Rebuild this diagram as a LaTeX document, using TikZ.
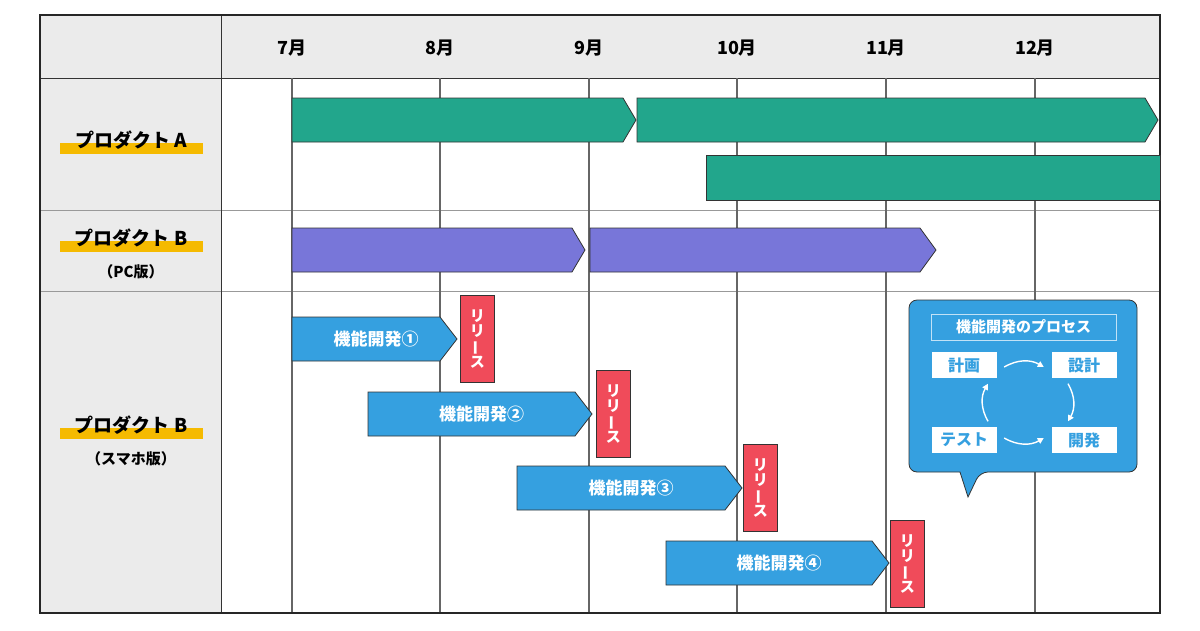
\documentclass[tikz,border=0pt]{standalone}
\usepackage{fontspec}
\setmainfont{Noto Sans CJK JP}
\usetikzlibrary{arrows.meta,positioning,shapes.misc,calc}
\definecolor{teal1}{HTML}{22A68C}
\definecolor{purp1}{HTML}{7876D9}
\definecolor{blue1}{HTML}{35A0E0}
\definecolor{red1}{HTML}{F04B5A}
\definecolor{yel1}{HTML}{F5BA00}
\definecolor{gray1}{HTML}{EBEBEB}
\tikzset{
  bar/.style={draw=black!80,line width=0.8pt},
  rel/.style={draw=black!80,fill=red1,line width=0.8pt,text=white,font=\bfseries\fontsize{15}{15}\selectfont,inner sep=0pt,align=center},
  lbl/.style={font=\bfseries\fontsize{17}{17}\selectfont,text=white},
  stepbox/.style={fill=white,draw=white,text=blue1,minimum width=64pt,minimum height=25pt,inner sep=0pt,font=\bfseries\fontsize{16}{16}\selectfont},
  cyc/.style={white,line width=1.4pt,-{Triangle[length=6pt,width=6pt]}},
}
\newcommand{\vbar}{\rotatebox[origin=c]{90}{ー}}
\begin{document}
\begin{tikzpicture}[x=1pt,y=-1pt]
  \useasboundingbox (0,0) rectangle (1200,630);
  % table
  \fill[gray1] (40,15) rectangle (1160,78);
  \fill[gray1] (40,78) rectangle (221,613);
  \draw[gray!80,line width=0.8pt] (40,210) -- (1160,210) (40,291) -- (1160,291);
  \draw[black!80,line width=1pt] (221,15) -- (221,613) (40,78) -- (1160,78);
  \foreach \x/\m in {292/7,440/8,589/9,737/10,886/11,1035/12}{
    \draw[black!60,line width=1.2pt] (\x,78) -- (\x,613);
    \node[font=\bfseries\fontsize{18}{18}\selectfont] (m\m) at (\x,48) {\m 月};
  }
  \draw[black!85,line width=1.2pt] (40,15) rectangle (1160,613);
  % left labels
  \foreach \y/\t/\s in {140/A/,238/B/（PC版）,425/B/（スマホ版）}{
    \fill[yel1] (60,\y+3) rectangle (203,\y+14);
    \node[font=\bfseries\fontsize{19}{19}\selectfont] at (131,\y) {プロダクト \t};
    \node[font=\bfseries\fontsize{15}{15}\selectfont] at (131,\y+34) {\s};
  }
  % product A
  \draw[bar,fill=teal1] (292,98) -- (623,98) -- (636,120) -- (623,142) -- (292,142) -- cycle;
  \draw[bar,fill=teal1] (637,98) -- (1145,98) -- (1158,120) -- (1145,142) -- (637,142) -- cycle;
  \draw[bar,fill=teal1] (706,155) rectangle (1160,200);
  % product B PC
  \draw[bar,fill=purp1] (292,228) -- (572,228) -- (585,250) -- (572,272) -- (292,272) -- cycle;
  \draw[bar,fill=purp1] (590,228) -- (920,228) -- (936,250) -- (920,272) -- (590,272) -- cycle;
  % product B smartphone
  \foreach \a/\b/\y/\n/\rx/\ry in {292/440/317/①/460/295,368/575/392/②/596/370,517/725/466/③/743/444,666/872/541/④/890/520}{
    \draw[bar,fill=blue1] (\a,\y) -- (\b,\y) -- (\b+17,\y+22) -- (\b,\y+44) -- (\a,\y+44) -- cycle;
    \node[lbl] at ({(\a+\b)/2+10},\y+22) {機能開発\n};
    \node[rel,minimum width=34pt,minimum height=87pt,anchor=north west] at (\rx,\ry) {リ\\リ\\\vbar\\ス};
  }
  % callout
  \draw[black!80,fill=blue1,line width=0.8pt,rounded corners=8pt] (960,472) -- (909,472) -- (909,300) -- (1137,300) -- (1137,472) -- (980,472) [sharp corners] -- (968,497) -- cycle;
  \node[draw=white!70!blue1,line width=1pt,minimum width=185pt,minimum height=26pt,inner sep=0pt,text=white,font=\bfseries\fontsize{15}{15}\selectfont] (title) at (1023.5,327) {機能開発のプロセス};
  \node[stepbox] (plan) at (964,365) {計画};
  \node[stepbox] (design) at (1084,365) {設計};
  \node[stepbox] (test) at (964,440) {テスト};
  \node[stepbox] (dev) at (1084,440) {開発};
  \draw[cyc] ($(plan.east)+(8,2)$) to[bend left=30] ($(design.west)+(-8,2)$);
  \draw[cyc] ($(design.south)+(-16,6)$) to[bend left=30] ($(dev.north)+(-16,-6)$);
  \draw[cyc] ($(test.east)+(8,-2)$) to[bend right=30] ($(dev.west)+(-8,-2)$);
  \draw[cyc] ($(test.north)+(24,-6)$) to[bend left=30] ($(plan.south)+(24,6)$);
\end{tikzpicture}
\end{document}
